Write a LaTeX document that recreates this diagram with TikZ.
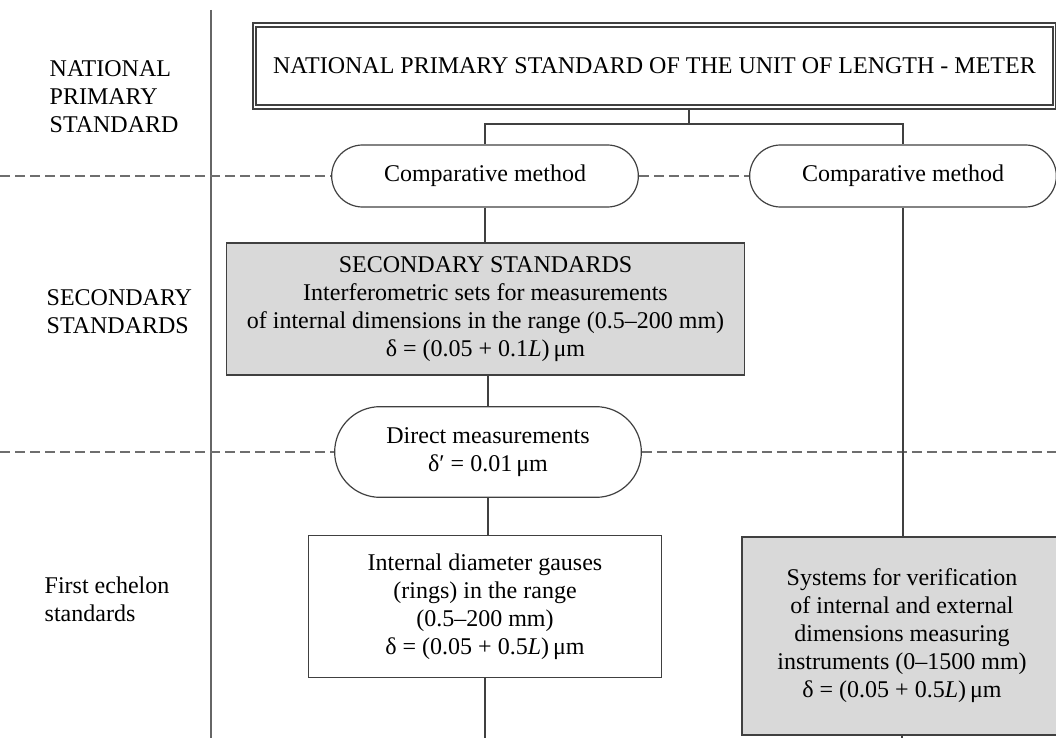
\documentclass[tikz,border=0pt]{standalone}
\usepackage{fontspec}
\setmainfont{Liberation Serif}
\usetikzlibrary{shapes.misc}
\definecolor{std_line}{RGB}{64, 64, 64}
\definecolor{std_fill}{RGB}{217, 217, 217}
\definecolor{std_sep}{RGB}{110, 110, 110}

\begin{document}
\begin{tikzpicture}[x=0.75pt, y=-0.75pt,
        font=\fontsize{18}{21}\selectfont,
        box/.style={draw=std_line, line width=0.9pt, align=center, inner sep=2pt},
        pill/.style={box, rounded rectangle, minimum width=234pt, minimum height=46.5pt},
        link/.style={std_line, line width=0.9pt},
        level/.style={std_sep, line width=1.8pt, dash pattern=on 7.5pt off 3.75pt},
        lab/.style={align=left, anchor=west}]
        \useasboundingbox (0,0) rectangle (1056,738);
        % Boites
        \node[box, line width=1.4pt, double=white, double distance=1.2pt,
              minimum width=600pt, minimum height=61.5pt] (nps) at (654.5,66)
          {NATIONAL PRIMARY STANDARD OF THE UNIT OF LENGTH - METER};
        \node[pill] (cmpL) at (485,176) {Comparative method};
        \node[pill] (cmpR) at (903,176) {Comparative method};
        \node[box, fill=std_fill, minimum width=388pt, minimum height=99pt] (sec)
          at (485.5,309)
          {SECONDARY STANDARDS\\Interferometric sets for measurements\\
           of internal dimensions in the range (0.5–200 mm)\\
           δ = (0.05 + 0.1\textit{L})\,μm};
        \node[pill, minimum height=68pt] (dir)
          at (488,452) {Direct measurements\\δ′ = 0.01\,μm};
        \node[box, minimum width=265pt, minimum height=107pt] (ring) at (485,606.5)
          {Internal diameter gauses\\(rings) in the range\\(0.5–200 mm)\\
           δ = (0.05 + 0.5\textit{L})\,μm};
        \node[box, fill=std_fill, minimum width=240pt, minimum height=148.5pt] (sys)
          at (902,636)
          {Systems for verification\\of internal and external\\
           dimensions measuring\\instruments (0–1500 mm)\\
           δ = (0.05 + 0.5\textit{L})\,μm};
        % Niveaux
        \node[lab] (lNat) at (45,97) {NATIONAL\\PRIMARY\\STANDARD};
        \node[lab] (lSec) at (42,312) {SECONDARY\\STANDARDS};
        \node[lab] (lFir) at (40,599) {First echelon\\standards};
        % Separateurs
        \coordinate (vTop) at (211,10);
        \coordinate (vBot) at (211,738);
        \draw[std_line!80, line width=1.2pt] (vTop) -- (vBot);
        \coordinate (d1) at (0,176);
        \coordinate (d2) at (0,452);
        \coordinate (d2e) at (1056,452);
        \draw[level] (d1) -- (cmpL.west);
        \draw[level] (cmpL.east) -- (cmpR.west);
        \draw[level] (d2) -- (dir.west);
        \draw[level] (dir.east) -- (d2e);
        % Liaisons
        \coordinate (split) at (689,124);
        \coordinate (endL) at (485,738);
        \coordinate (endR) at (902,738);
        \draw[link] (nps.south -| split) -- (split);
        \draw[link] (cmpL.north) |- (split) -| (cmpR.north);
        \draw[link] (cmpL.south) -- (sec.north -| cmpL.south);
        \draw[link] (sec.south -| dir.north) -- (dir.north);
        \draw[link] (dir.south) -- (ring.north -| dir.south);
        \draw[link] (ring.south) -- (endL);
        \draw[link] (cmpR.south) -- (sys.north -| cmpR.south);
        \draw[link] (sys.south) -- (endR);
\end{tikzpicture}
\end{document}
